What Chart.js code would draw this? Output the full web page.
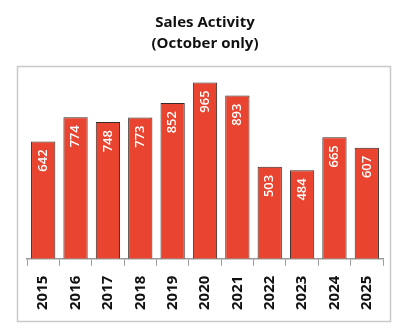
<!DOCTYPE html>
<html>
<head>
<meta charset="utf-8">
<script src="https://cdn.jsdelivr.net/npm/chart.js@4"></script>
<style>
  html, body { margin: 0; padding: 0; background: #fff; }
  #wrap { width: 408px; height: 332px; }
</style>
</head>
<body>
<div id="wrap"><canvas id="chart" width="408" height="332"></canvas></div>
<script>
// October sales, one bar per year
var years = ['2015', '2016', '2017', '2018', '2019', '2020', '2021', '2022', '2023', '2024', '2025'];
var sales = [642, 774, 748, 773, 852, 965, 893, 503, 484, 665, 607];
var titleLines = ['Sales Activity', '(October only)'];

var FONT = "'Open Sans', 'DejaVu Sans', sans-serif";

// light grey frame round the plot
var framePlugin = {
  id: 'frame',
  beforeDraw: function(chart) {
    var c = chart.ctx;
    c.save();
    c.strokeStyle = '#c9c9c9';
    c.lineWidth = 1.5;
    c.strokeRect(17.5, 66.5, 373, 255);
    c.restore();
  }
};

// value written up the inside of each bar, near its top
var barLabels = {
  id: 'barLabels',
  afterDatasetsDraw: function(chart) {
    var c = chart.ctx;
    var meta = chart.getDatasetMeta(0);
    c.save();
    c.fillStyle = '#ffffff';
    c.font = '600 13px ' + FONT;
    c.textAlign = 'right';
    c.textBaseline = 'middle';
    meta.data.forEach(function(bar, i) {
      c.save();
      c.translate(bar.x, bar.y + 8);
      c.rotate(-Math.PI / 2);
      c.fillText(String(sales[i]), 0, 0);
      c.restore();
    });
    c.restore();
  }
};

new Chart(document.getElementById('chart'), {
  type: 'bar',
  data: {
    labels: years,
    datasets: [{
      data: sales,
      backgroundColor: '#e8442f',
      borderColor: '#3a2a26',
      borderWidth: 1,
      barPercentage: 0.75,
      categoryPercentage: 1
    }]
  },
  options: {
    responsive: false,
    animation: false,
    layout: { padding: { left: 27, right: 25, top: 0, bottom: 12 } },
    plugins: {
      legend: { display: false },
      tooltip: { enabled: false },
      title: {
        display: true,
        text: titleLines,
        color: '#111',
        font: { family: FONT, size: 15, weight: 'bold', lineHeight: 1.4 },
        padding: { top: 12, bottom: 22 }
      }
    },
    scales: {
      x: {
        grid: { drawOnChartArea: false, color: '#9a9a9a', tickLength: 7, lineWidth: 1 },
        border: { color: '#9a9a9a', width: 1.5 },
        ticks: {
          minRotation: 90, maxRotation: 90,
          padding: 10,
          color: '#111',
          font: { family: FONT, size: 15, weight: 'bold' }
        }
      },
      y: {
        display: false,
        min: 0,
        max: 1000
      }
    }
  },
  plugins: [framePlugin, barLabels]
});
</script>
</body>
</html>
